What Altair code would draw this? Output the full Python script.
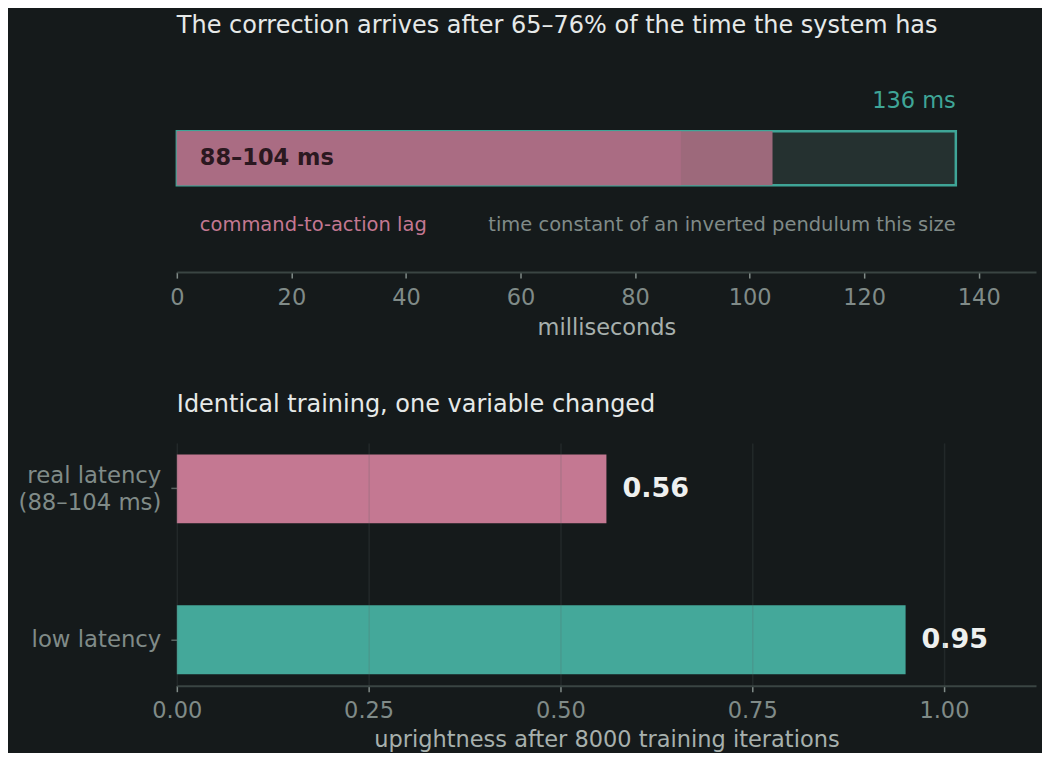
import pandas as pd
import altair as alt

# --- data ---
lag_low = 88
lag_high = 104
pendulum_ms = 136

conditions = ["real latency\n(88–104 ms)", "low latency"]
uprightness = [0.56, 0.95]
bar_colors = ["#c47892", "#44a89a"]

ms_ticks = [0, 20, 40, 60, 80, 100, 120, 140]
score_ticks = [0, 0.25, 0.5, 0.75, 1.0]

BG = "#151a1b"
TEAL = "#3fa597"
PINK = "#c47892"
GREY = "#808b88"
FONT = "DejaVu Sans"


def latency_panel():
    row = alt.Y("row:N", axis=None,
                scale=alt.Scale(paddingInner=0.5, paddingOuter=0.806))
    xscale = alt.Scale(domain=[0, 150], nice=False)
    xaxis = alt.Axis(values=ms_ticks, title="milliseconds", grid=False,
                     labelFlush=False)

    window = pd.DataFrame({"row": ["lag"], "start": [0], "end": [pendulum_ms]})
    # full lag span first, the guaranteed part drawn over it
    lag = pd.DataFrame({"row": ["lag", "lag"], "start": [0, 0],
                        "end": [lag_high, lag_low], "part": ["extra", "min"]})

    outline = alt.Chart(window).mark_bar(
        fill="#253130", stroke=TEAL, strokeWidth=2.5
    ).encode(
        x=alt.X("start:Q", scale=xscale, axis=xaxis),
        x2="end:Q",
        y=row,
    )

    lag_bar = alt.Chart(lag).mark_bar().encode(
        x=alt.X("start:Q", scale=xscale),
        x2="end:Q",
        y=row,
        color=alt.Color("part:N", legend=None,
                        scale=alt.Scale(domain=["min", "extra"],
                                        range=["#aa6c83", "#9d697b"])),
    )

    range_label = alt.Chart(pd.DataFrame({"row": ["lag"], "x": [0],
                                          "t": [f"{lag_low}–{lag_high} ms"]})).mark_text(
        align="left", baseline="middle", dx=23, fontSize=22.5,
        fontWeight="bold", color="#2b1820", font=FONT
    ).encode(x=alt.X("x:Q", scale=xscale), y=row, text="t:N")

    cap_label = alt.Chart(pd.DataFrame({"row": ["lag"], "x": [pendulum_ms],
                                        "t": [f"{pendulum_ms} ms"]})).mark_text(
        align="right", baseline="middle", dy=-57, fontSize=22.5,
        color=TEAL, font=FONT
    ).encode(x=alt.X("x:Q", scale=xscale), y=row, text="t:N")

    lag_note = alt.Chart(pd.DataFrame({"row": ["lag"], "x": [0],
                                       "t": ["command-to-action lag"]})).mark_text(
        align="left", baseline="middle", dx=23, dy=67, fontSize=19.5,
        color=PINK, font=FONT
    ).encode(x=alt.X("x:Q", scale=xscale), y=row, text="t:N")

    pend_note = alt.Chart(pd.DataFrame({"row": ["lag"], "x": [pendulum_ms],
                                        "t": ["time constant of an inverted pendulum this size"]})).mark_text(
        align="right", baseline="middle", dy=67, fontSize=19.5,
        color=GREY, font=FONT
    ).encode(x=alt.X("x:Q", scale=xscale), y=row, text="t:N")

    return alt.layer(outline, lag_bar, range_label, cap_label, lag_note, pend_note).properties(
        width=860, height=228,
        title=alt.TitleParams("The correction arrives after 65–76% of the time the system has",
                              anchor="start", frame="group", offset=6),
    )


def training_panel():
    df = pd.DataFrame({"condition": conditions, "score": uprightness})
    yenc = alt.Y("condition:N", sort=conditions, title=None,
                 scale=alt.Scale(paddingInner=0.543, paddingOuter=0.076),
                 axis=alt.Axis(labelExpr="split(datum.label, '\\n')",
                               labelLineHeight=27, domain=False, grid=False,
                               labelFontSize=22.8,
                               labelOffset={"condition": {"test": "indexof(datum.value, '\\n') >= 0",
                                                          "value": -13},
                                            "value": 0}))
    xscale = alt.Scale(domain=[0, 1.12], nice=False)

    bars = alt.Chart(df).mark_bar().encode(
        x=alt.X("score:Q", scale=xscale,
                axis=alt.Axis(values=score_ticks, format=".2f", grid=True, zindex=1,
                              labelFlush=False, titlePadding=6,
                              title="uprightness after 8000 training iterations")),
        y=yenc,
        color=alt.Color("condition:N", legend=None,
                        scale=alt.Scale(domain=conditions, range=bar_colors)),
    )

    labels = alt.Chart(df).mark_text(
        align="left", baseline="middle", dx=16, fontSize=27,
        fontWeight="bold", color="#eef0ef", font=FONT
    ).encode(
        x=alt.X("score:Q", scale=xscale),
        y=yenc,
        text=alt.Text("score:Q", format=".2f"),
    )

    return alt.layer(bars, labels).properties(
        width=860, height=243,
        title=alt.TitleParams("Identical training, one variable changed",
                              anchor="start", frame="group", offset=26),
    )


chart = alt.vconcat(latency_panel(), training_panel(), spacing=54).resolve_scale(
    color="independent"
).properties(
    background=BG,
    padding={"left": 9, "right": 6, "top": 6, "bottom": 2},
).configure_view(
    stroke=None
).configure_title(
    font=FONT, fontSize=24, fontWeight="normal", color="#e6e9e8"
).configure_axis(
    labelFont=FONT, titleFont=FONT,
    labelFontSize=22.5, titleFontSize=22.5,
    labelColor=GREY, titleColor="#a7b0ad", titleFontWeight="normal",
    domainColor="#3a4543", domainWidth=2,
    tickColor=GREY, tickSize=6, tickWidth=1.5,
    labelPadding=8, titlePadding=8,
    gridColor="#5a6664", gridOpacity=0.2, gridWidth=1.5,
).configure_axisY(
    labelPadding=10, tickColor="#5a6462"
)

chart.save("out.html", embed_options={"renderer": "svg", "actions": False})
